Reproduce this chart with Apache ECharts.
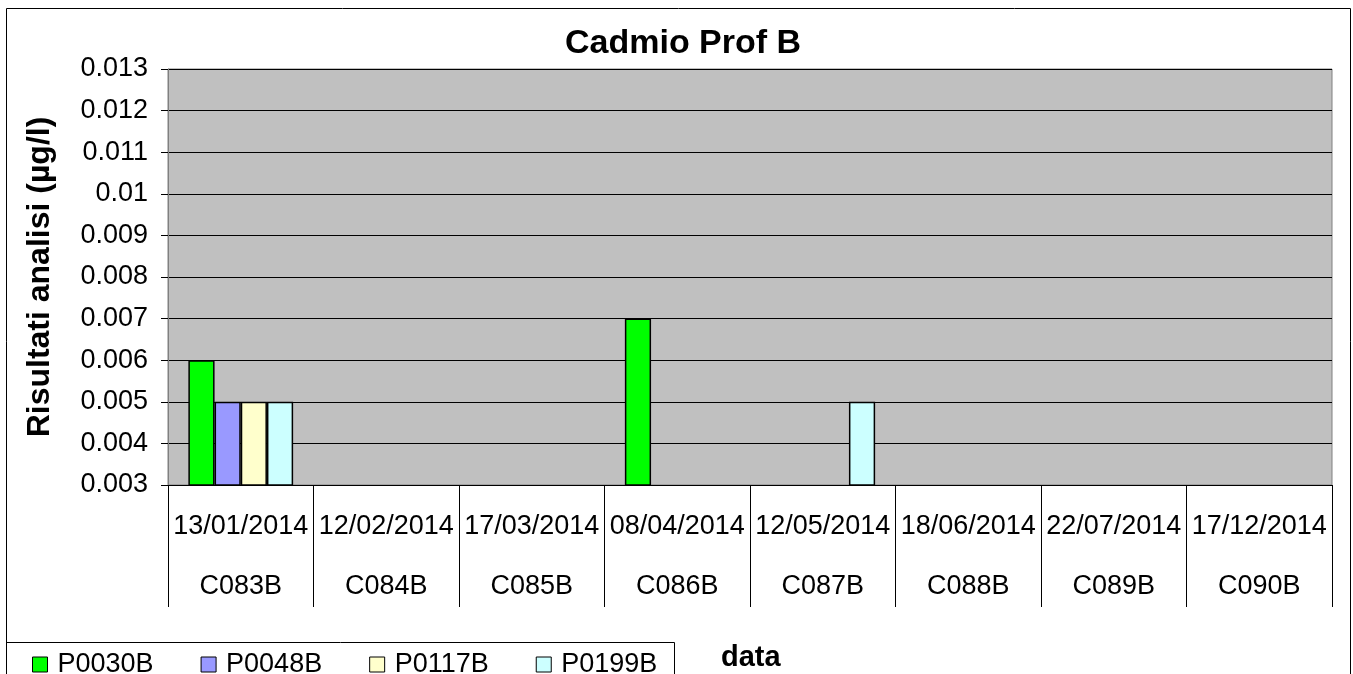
<!DOCTYPE html>
<html>
<head>
<meta charset="utf-8">
<script src="https://cdn.jsdelivr.net/npm/echarts@6/dist/echarts.min.js"></script>
<style>
html,body{margin:0;padding:0;background:#fff;}
#c{width:1353px;height:674px;}
</style>
</head>
<body>
<div id="c"></div>
<script>
var dates = ['13/01/2014','12/02/2014','17/03/2014','08/04/2014','12/05/2014','18/06/2014','22/07/2014','17/12/2014'];
var codes = ['C083B','C084B','C085B','C086B','C087B','C088B','C089B','C090B'];
var seriesNames = ['P0030B','P0048B','P0117B','P0199B'];
var P0030B = [0.006, null, null, 0.007, null, null, null, null];
var P0048B = [0.005, null, null, null, null, null, null, null];
var P0117B = [0.005, null, null, null, null, null, null, null];
var P0199B = [0.005, null, null, null, 0.005, null, null, null];
var colors = ['#00FF00','#9999FF','#FFFFCC','#CCFFFF'];
var allValues = [P0030B, P0048B, P0117B, P0199B];

var FONT = '"Liberation Sans", Arial, sans-serif';
var chart = echarts.init(document.getElementById('c'), null, {renderer:'canvas'});
var option = {
  animation: false,
  backgroundColor: '#ffffff',
  textStyle: {fontFamily: FONT},
  title: {
    text: 'Cadmio Prof B',
    left: 565,
    top: 27,
    padding: 0,
    textStyle: {fontFamily: FONT, fontSize: 34, fontWeight: 'bold', color: '#000'}
  },
  grid: {left: 168, right: 21, top: 69, height: 416, containLabel: false,
         show: true, backgroundColor: '#C0C0C0', borderColor: '#808080', borderWidth: 1},
  legend: {
    left: 32, top: 651, padding: 0, itemGap: 47, itemWidth: 15, itemHeight: 15,
    icon: 'rect',
    itemStyle: {borderColor: '#000', borderWidth: 1},
    textStyle: {fontFamily: FONT, fontSize: 27, color: '#000', padding: [0,0,0,5]},
    data: seriesNames
  },
  xAxis: [{
    type: 'category',
    data: dates,
    position: 'bottom',
    axisLine: {show: true, lineStyle: {color: '#000', width: 1}},
    axisTick: {show: true, length: 122, lineStyle: {color: '#000', width: 1}},
    axisLabel: {interval: 0, margin: 28, fontFamily: FONT, fontSize: 27, color: '#000'},
    splitLine: {show: false}
  },{
    type: 'category',
    data: codes,
    position: 'bottom',
    offset: 60,
    axisLine: {show: false},
    axisTick: {show: false},
    axisLabel: {interval: 0, margin: 28, fontFamily: FONT, fontSize: 27, color: '#000'},
    splitLine: {show: false}
  }],
  yAxis: {
    type: 'value',
    min: 0.003, max: 0.013, interval: 0.001,
    name: 'Risultati analisi (µg/l)',
    nameLocation: 'middle',
    nameGap: 112,
    nameTextStyle: {fontFamily: FONT, fontSize: 32, fontWeight: 'bold', color: '#000'},
    axisLine: {show: true, lineStyle: {color: '#808080', width: 1}},
    axisTick: {show: true, length: 7, lineStyle: {color: '#000'}},
    axisLabel: {margin: 20, fontFamily: FONT, fontSize: 27, color: '#000'},
    splitLine: {show: true, lineStyle: {color: '#000', width: 1}}
  },
  series: seriesNames.map(function(n, i){
    return {
      name: n, type: 'bar', xAxisIndex: 0,
      data: allValues[i],
      barGap: '0%', barCategoryGap: '28%',
      itemStyle: {color: colors[i], borderColor: '#000', borderWidth: 1.5},
      clip: true
    };
  }),
  graphic: [
    {type: 'rect', shape: {x: 6.5, y: 8.5, width: 1344, height: 700}, style: {fill: null, stroke: '#000', lineWidth: 1}, silent: true, z: -1},
    {type: 'rect', shape: {x: 6.5, y: 642.5, width: 668, height: 60}, style: {fill: null, stroke: '#000', lineWidth: 1}, silent: true},
    {type: 'text', left: 721, top: 643, style: {text: 'data', font: 'bold 29px ' + FONT, fill: '#000'}}
  ]
};
chart.setOption(option);
</script>
</body>
</html>
